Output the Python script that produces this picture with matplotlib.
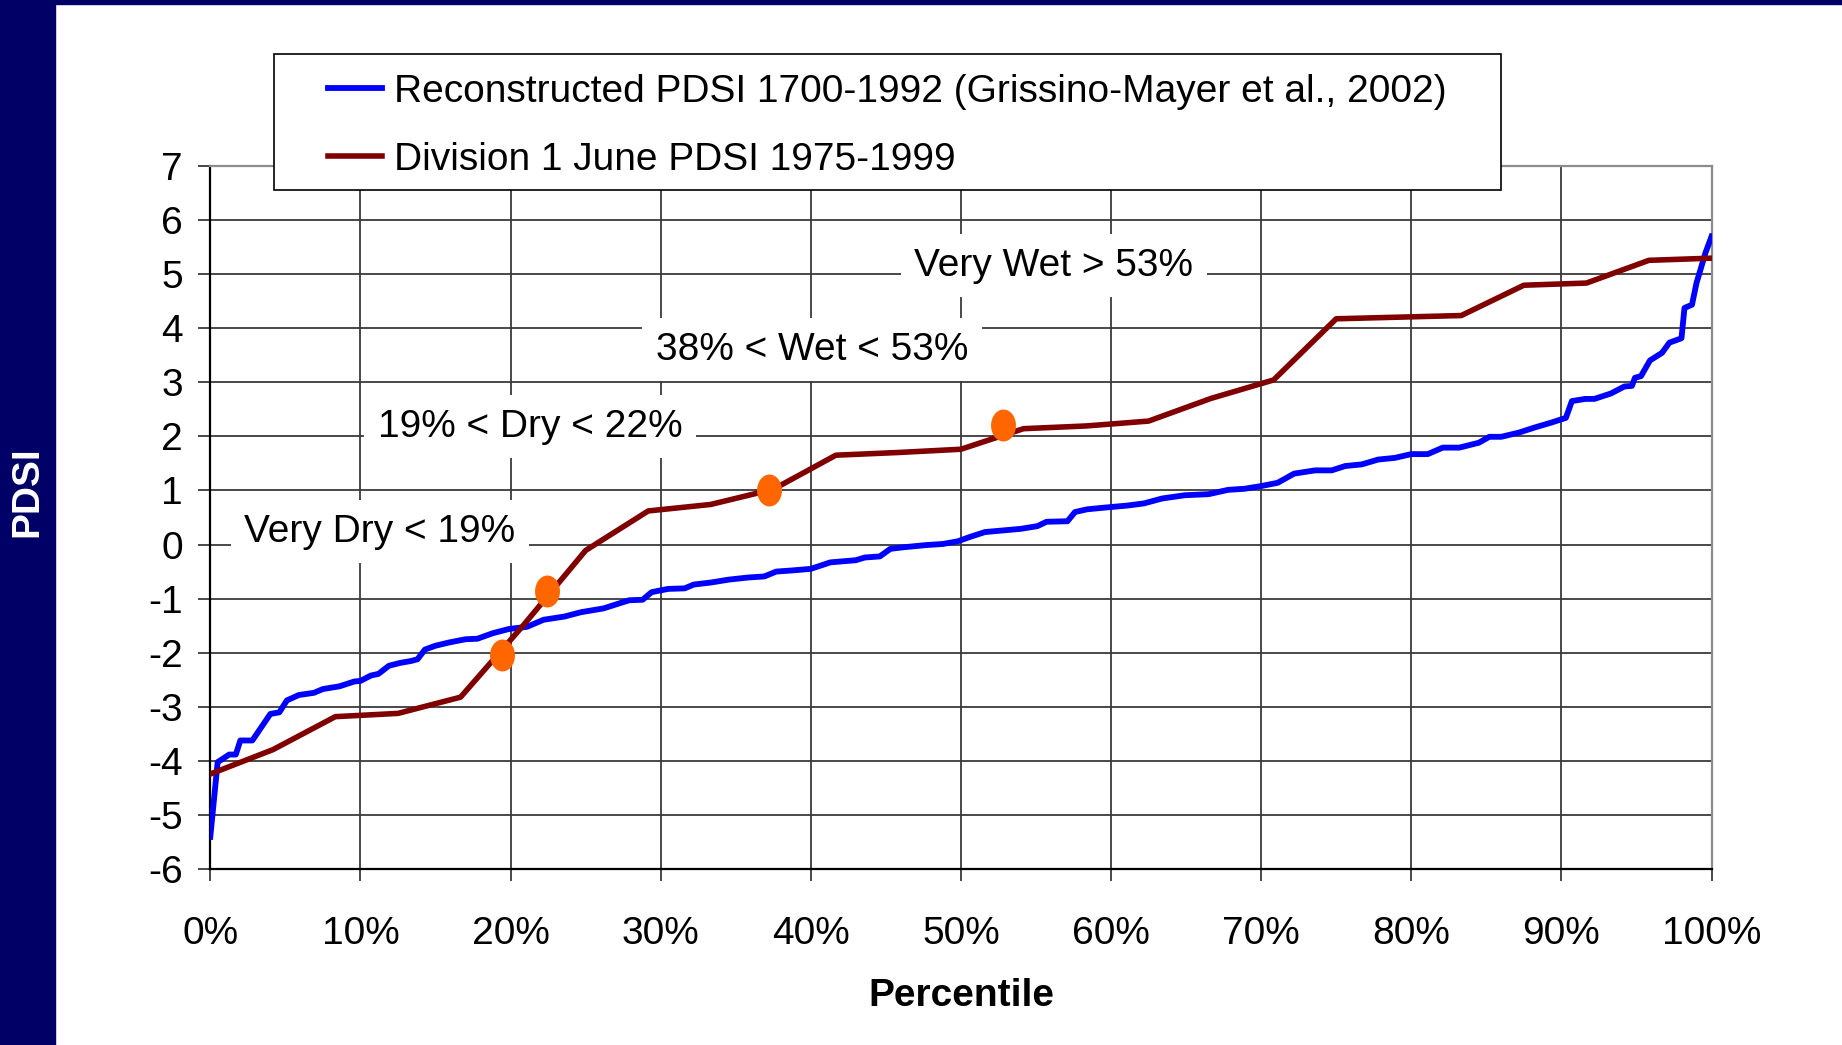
import matplotlib
matplotlib.use("Agg")
import matplotlib.pyplot as plt
from matplotlib.patches import Rectangle
from matplotlib.path import Path
from matplotlib.transforms import Affine2D
from matplotlib.ticker import FuncFormatter

plt.rcParams["font.family"] = ["Liberation Sans", "DejaVu Sans"]
plt.rcParams["axes.unicode_minus"] = False

# reconstructed PDSI (sorted), percentile vs value
blue_pct = [0, 0.49, 0.82, 1.26, 1.7, 2.0, 2.8, 4.0, 4.6, 5.1, 5.9, 6.9, 7.5, 8.6, 9.6,
            10.0, 10.7, 11.2, 11.9, 12.6, 13.4, 13.8, 14.3, 15.0, 15.9, 17.0, 17.8, 18.8,
            19.9, 21.1, 22.2, 23.6, 24.7, 26.2, 27.1, 27.9, 28.8, 29.4, 30.5, 31.6, 32.2,
            33.4, 34.5, 35.8, 36.9, 37.7, 38.7, 40.0, 41.3, 43.0, 43.6, 44.6, 45.3, 46.2,
            47.7, 48.8, 49.8, 50.6, 51.6, 52.8, 54.0, 55.1, 55.7, 57.1, 57.6, 58.4, 59.5,
            61.1, 62.2, 63.4, 64.9, 66.5, 67.8, 68.9, 70.0, 71.1, 72.2, 73.6, 74.7, 75.6,
            76.7, 77.8, 78.9, 80.0, 81.1, 82.1, 83.2, 84.5, 85.2, 86.0, 87.2, 88.2, 89.3,
            90.3, 90.7, 91.6, 92.2, 93.3, 94.2, 94.7, 94.9, 95.3, 95.9, 96.7, 97.2, 98.0,
            98.2, 98.7, 99.0, 99.6, 100]
blue_pdsi = [-5.40, -4.02, -3.96, -3.88, -3.88, -3.62, -3.62, -3.13, -3.10, -2.88, -2.78,
             -2.74, -2.67, -2.62, -2.53, -2.52, -2.42, -2.39, -2.24, -2.19, -2.15, -2.12,
             -1.94, -1.87, -1.81, -1.75, -1.74, -1.64, -1.56, -1.52, -1.39, -1.33, -1.25,
             -1.18, -1.10, -1.03, -1.02, -0.88, -0.82, -0.81, -0.74, -0.70, -0.65, -0.61,
             -0.59, -0.50, -0.48, -0.45, -0.33, -0.29, -0.24, -0.22, -0.08, -0.05, -0.01,
             0.01, 0.06, 0.14, 0.23, 0.26, 0.29, 0.34, 0.42, 0.43, 0.60, 0.65, 0.68,
             0.72, 0.76, 0.85, 0.91, 0.93, 1.01, 1.03, 1.08, 1.14, 1.31, 1.37, 1.37, 1.45,
             1.48, 1.57, 1.60, 1.67, 1.67, 1.79, 1.79, 1.88, 1.99, 1.99, 2.07, 2.16, 2.25,
             2.34, 2.65, 2.69, 2.69, 2.79, 2.92, 2.93, 3.08, 3.11, 3.40, 3.54, 3.73, 3.81,
             4.37, 4.43, 4.83, 5.39, 5.69]

# Division 1 June PDSI 1975-1999 (25 years)
red_pct = [0, 4.17, 8.33, 12.5, 16.67, 20.83, 25, 29.17, 33.33, 37.5, 41.67, 45.83, 50,
           54.17, 58.33, 62.5, 66.67, 70.83, 75, 79.17, 83.33, 87.5, 91.67, 95.83, 100]
red_pdsi = [-4.24, -3.79, -3.18, -3.12, -2.82, -1.5, -0.11, 0.62, 0.74, 1.02, 1.65, 1.70,
            1.76, 2.14, 2.19, 2.28, 2.70, 3.04, 4.17, 4.20, 4.23, 4.79, 4.83, 5.25, 5.29]

# class thresholds
dot_pct = [19.4, 22.4, 37.2, 52.8]
dot_pdsi = [-2.05, -0.86, 1.0, 2.2]

labels = ["Reconstructed PDSI 1700-1992 (Grissino-Mayer et al., 2002)",
          "Division 1 June PDSI 1975-1999"]
notes = ["Very Dry < 19%", "19% < Dry < 22%", "38% < Wet < 53%", "Very Wet > 53%"]
note_x = [11.3, 21.3, 40.1, 56.2]
note_y = [0.24, 2.18, 3.6, 5.15]

W, H = 1842, 1045
fig = plt.figure(figsize=(W / 100, H / 100), dpi=100)
navy = "#000066"
fig.add_artist(Rectangle((0, 0), 55 / W, 1, transform=fig.transFigure, color=navy, zorder=0))
fig.add_artist(Rectangle((0, 1 - 4 / H), 1, 4 / H, transform=fig.transFigure, color=navy, zorder=0))

x0, x1 = 210.3, 1711.5
y0, y1 = 165.6, 869.3
ax = fig.add_axes([x0 / W, 1 - y1 / H, (x1 - x0) / W, (y1 - y0) / H])

ax.plot(blue_pct, blue_pdsi, color="#0000FF", lw=4.2, solid_joinstyle="round", zorder=3,
        label=labels[0])
ax.plot(red_pct, red_pdsi, color="#800000", lw=4.0, solid_joinstyle="round", zorder=4,
        label=labels[1])

ell = Path.unit_circle().transformed(Affine2D().scale(0.78, 1.0))
ax.scatter(dot_pct, dot_pdsi, marker=ell, s=23 ** 2, color="#FF6600", zorder=5, lw=0)

for t, x, y in zip(notes, note_x, note_y):
    ax.text(x, y, t, fontsize=28, ha="center", va="center", zorder=2,
            bbox=dict(boxstyle="square,pad=0.35", fc="white", ec="none"))

ax.set_xlim(0, 100)
ax.set_ylim(-6, 7)
ax.set_xticks(range(0, 101, 10))
ax.set_yticks(range(-6, 8))
ax.xaxis.set_major_formatter(FuncFormatter(lambda v, p: f"{int(v)}%"))
ax.grid(True, color="#3a3a3a", lw=1.3, zorder=1)
ax.set_axisbelow(True)
ax.tick_params(axis="both", labelsize=28, length=8.6, width=1.3, color="#3a3a3a")
ax.tick_params(axis="y", pad=11)
ax.tick_params(axis="x", pad=25)

for side in ["left", "bottom"]:
    ax.spines[side].set_color("black")
    ax.spines[side].set_linewidth(1.6)
for side in ["top", "right"]:
    ax.spines[side].set_color("#8c8c8c")
    ax.spines[side].set_linewidth(1.6)

ax.set_xlabel("Percentile", fontsize=28, fontweight="bold")
ax.xaxis.set_label_coords(0.5, (y1 - 996) / (y1 - y0))
ax.xaxis.label.set_va("center")
ax.set_ylabel("PDSI", fontsize=28, fontweight="bold", color="white")
ax.yaxis.set_label_coords((27 - x0) / (x1 - x0), (y1 - 492) / (y1 - y0))
ax.yaxis.label.set_va("center")

# legend box
fig.add_artist(Rectangle((273.7 / W, 1 - 190 / H), 1227.3 / W, 136 / H,
                         transform=fig.transFigure, fc="white", ec="black", lw=1.2, zorder=5))
h, l = ax.get_legend_handles_labels()
leg = fig.legend(h, l, loc="upper left", bbox_to_anchor=(328 / W, 1 - 74 / H),
                 frameon=False, fontsize=28, handlelength=1.4, handletextpad=0.3,
                 labelspacing=0.82, borderpad=0, borderaxespad=0)
leg.set_zorder(6)

fig.savefig("out.png", dpi=100)
